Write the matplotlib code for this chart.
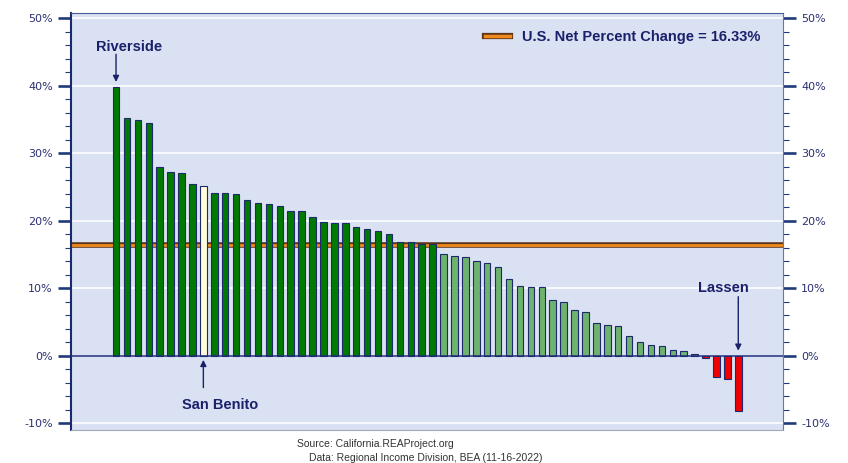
import matplotlib
matplotlib.use("Agg")
import matplotlib.pyplot as plt
import matplotlib.patheffects as pe
from matplotlib.lines import Line2D
from matplotlib.ticker import MultipleLocator, FuncFormatter
import numpy as np

# percent change by county, sorted high to low (58 CA counties)
values = [39.8, 35.2, 34.9, 34.4, 27.9, 27.2, 27.0, 25.4, 25.2, 24.1,
          24.1, 23.9, 23.0, 22.6, 22.5, 22.1, 21.5, 21.5, 20.6, 19.8,
          19.7, 19.7, 19.0, 18.8, 18.4, 18.0, 16.9, 16.9, 16.6, 16.5,
          15.1, 14.8, 14.6, 14.0, 13.7, 13.1, 11.4, 10.3, 10.2, 10.2,
          8.2, 8.0, 6.7, 6.4, 4.9, 4.6, 4.4, 2.9, 2.0, 1.6,
          1.4, 0.9, 0.7, 0.25, -0.3, -3.15, -3.4, -8.25]
us_change = 16.33
labeled = {"Riverside": 0, "San Benito": 8, "Lassen": 57}
highlight = "San Benito"
source_lines = ["Source: California.REAProject.org",
                "Data: Regional Income Division, BEA (11-16-2022)"]

navy = "#1b206b"
tick_col = "#1f3a7a"
bold_font = dict(family=["Liberation Sans Narrow", "Liberation Sans", "DejaVu Sans"],
                 weight="bold", size=10.5)

fig = plt.figure(figsize=(8.48, 4.63), dpi=100)
ax = fig.add_axes([0.0834, 0.0713, 0.840, 0.9013])
ax.set_facecolor("#D9E1F2")

x = np.arange(len(values))
colors = []
for i, v in enumerate(values):
    if i == labeled[highlight]:
        colors.append("#FFFBDC")
    elif v < 0:
        colors.append("#F00000")
    elif v >= us_change:
        colors.append("#007A00")
    else:
        colors.append("#6DB36D")

for yv in range(-10, 51, 10):
    ax.axhline(yv, color="white", lw=1.2, zorder=0.5)

ax.axhline(us_change, color="#F08A1C", lw=2.0, zorder=1,
           path_effects=[pe.Stroke(linewidth=4.0, foreground="#5c3518"), pe.Normal()])

ax.bar(x, values, width=0.6, color=colors, edgecolor="#1f2a6e", linewidth=0.8, zorder=2)
ax.axhline(0, color="#1f2a7a", lw=1.1, zorder=3)

ax.set_xlim(-4.15, len(values) - 1 + 4.1)
ax.set_ylim(-11.0, 50.8)
ax.set_xticks([])

ax.yaxis.set_major_locator(MultipleLocator(10))
ax.yaxis.set_minor_locator(MultipleLocator(2))
ax.yaxis.set_major_formatter(FuncFormatter(lambda v, p: f"{int(round(v))}%"))
ax.tick_params(axis="y", which="major", direction="out", length=9.4, width=1.9,
               color=tick_col, labelsize=8, labelcolor="#2a3070", pad=3.5,
               left=True, right=True, labelleft=True, labelright=True)
ax.tick_params(axis="y", which="minor", direction="out", length=4.5, width=0.8,
               color=tick_col, left=True, right=True)

ax.spines["left"].set_color("#1b2a6b")
ax.spines["left"].set_linewidth(1.5)
ax.spines["top"].set_color("#4a5a9a")
ax.spines["top"].set_linewidth(0.8)
ax.spines["right"].set_color("#6a78a8")
ax.spines["right"].set_linewidth(0.8)
ax.spines["bottom"].set_color("#a0a8b8")
ax.spines["bottom"].set_linewidth(0.8)

# county labels, offsets in points from (bar, value) or (bar, 0)
i = labeled["Riverside"]
ax.annotate("Riverside", xy=(i, values[i]), xytext=(9.4, 29), textcoords="offset points",
            ha="center", va="center", color=navy, **bold_font)
i = labeled["San Benito"]
ax.annotate("San Benito", xy=(i, 0), xytext=(12, -35.5), textcoords="offset points",
            ha="center", va="center", color=navy, **bold_font)
i = labeled["Lassen"]
ax.annotate("Lassen", xy=(i, 0), xytext=(-10.4, 48.7), textcoords="offset points",
            ha="center", va="center", color=navy, **bold_font)

arrow = dict(arrowstyle="-|>", color=navy, lw=1.0, mutation_scale=9, shrinkA=0, shrinkB=0)


def vert_arrow(xi, yv, start_pt, end_pt):
    # vertical arrow, start/end given in points above the data point
    t = ax.transData.transform((xi, yv))
    s = ax.transData.inverted().transform((t[0], t[1] + start_pt * fig.dpi / 72))
    e = ax.transData.inverted().transform((t[0], t[1] + end_pt * fig.dpi / 72))
    ax.annotate("", xy=e, xytext=s, arrowprops=arrow)


fig.canvas.draw()
vert_arrow(labeled["Riverside"], values[labeled["Riverside"]], 23.5, 3.6)
vert_arrow(labeled["San Benito"], 0, -23.0, -3.0)
vert_arrow(labeled["Lassen"], 0, 42.5, 3.6)

handle = Line2D([0], [0], color="#F08A1C", lw=2.5,
                path_effects=[pe.Stroke(linewidth=4.5, foreground="#5c3518"), pe.Normal()])
leg = ax.legend([handle], [f"U.S. Net Percent Change = {us_change:.2f}%"],
                loc="center right", bbox_to_anchor=(0.968, 0.942), frameon=False,
                handlelength=1.7, handletextpad=0.8, borderpad=0, borderaxespad=0,
                prop=bold_font)
for t in leg.get_texts():
    t.set_color(navy)

fig.text(0.350, 0.041, source_lines[0], fontsize=7.5, color="#333333",
         family=["Liberation Sans", "DejaVu Sans"], va="center", ha="left")
fig.text(0.364, 0.011, source_lines[1], fontsize=7.5, color="#333333",
         family=["Liberation Sans", "DejaVu Sans"], va="center", ha="left")

fig.savefig("out.png", dpi=100)
